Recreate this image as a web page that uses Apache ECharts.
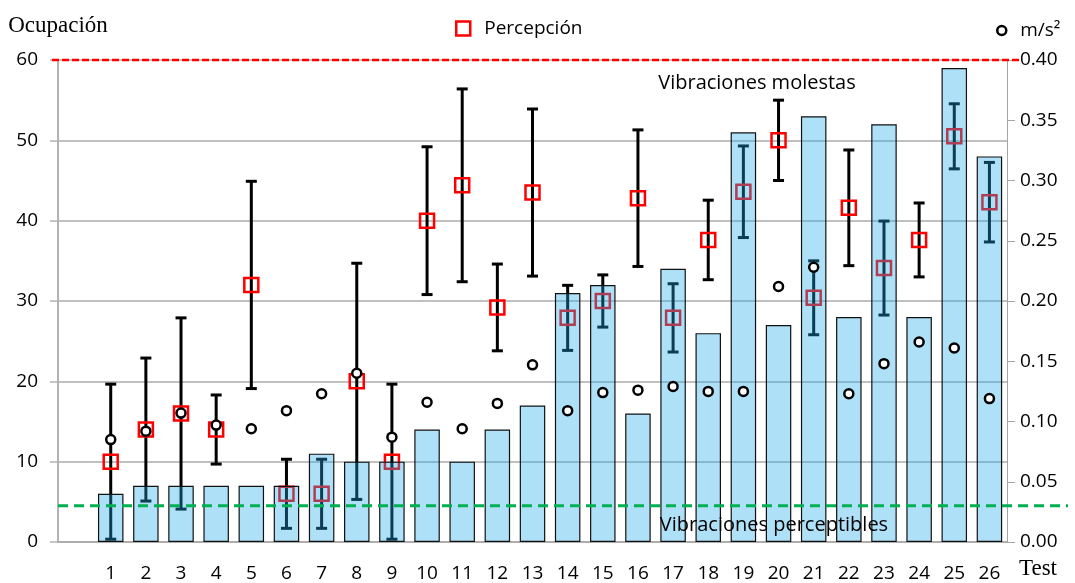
<!DOCTYPE html>
<html>
<head>
<meta charset="utf-8">
<script src="https://cdn.jsdelivr.net/npm/echarts@6/dist/echarts.min.js"></script>
<style>
  html, body { margin: 0; padding: 0; background: #fff; }
  #chart { width: 1075px; height: 583px; }
</style>
</head>
<body>
<div id="chart"></div>
<script>
// Test numbers along the horizontal axis
const tests = ['1','2','3','4','5','6','7','8','9','10','11','12','13','14','15','16','17','18','19','20','21','22','23','24','25','26'];
// Occupancy per test (left axis)
const occupancy = [6,7,7,7,7,7,11,10,10,14,10,14,17,31,32,16,34,26,51,27,53,28,52,28,59,48];
// Perception score per test: mean and spread (left axis)
const perceptionMean = [10,14,16,14,32,6,6,20,10,40,44.4,29.2,43.5,27.9,30,42.8,27.9,37.6,43.6,50,30.4,41.6,34.1,37.6,50.5,42.3];
const perceptionSd = [9.65,8.9,11.9,4.3,12.9,4.3,4.3,14.7,9.65,9.2,12,5.4,10.4,4.05,3.25,8.5,4.25,4.95,5.7,5,4.6,7.2,5.85,4.6,4.05,4.95];
// Measured acceleration in m/s² (right axis)
const accel = [0.085,0.092,0.107,0.097,0.094,0.109,0.123,0.140,0.087,0.116,0.094,0.115,0.147,0.109,0.124,0.126,0.129,0.125,0.125,0.212,0.228,0.123,0.148,0.166,0.161,0.119];
// Reference thresholds in m/s²
const thresholdValues = [0.40, 0.03];
const thresholdLabels = ['Vibraciones molestas', 'Vibraciones perceptibles'];

const SANS = 'Open Sans';
const SERIF = 'Liberation Serif';

// first slot on the category axis is left empty
const categories = [''].concat(tests);
const pad = v => ['-'].concat(v);
const errData = perceptionMean.map((m, i) => [i + 1, m - perceptionSd[i], m + perceptionSd[i]]);

const chart = echarts.init(document.getElementById('chart'), null, { renderer: 'canvas' });

const option = {
  animation: false,
  backgroundColor: '#fff',
  grid: { left: 58, right: 68, top: 60, bottom: 39, containLabel: false },
  legend: [
    {
      data: [{ name: 'Percepción', icon: 'rect',
        itemStyle: { color: '#fff', borderColor: '#ff0000', borderWidth: 2.5 } }],
      left: 450, top: 14, itemWidth: 14, itemHeight: 14,
      textStyle: { fontFamily: SANS, fontSize: 19, color: '#000', padding: [0, 0, 0, 9] }
    },
    {
      data: [{ name: 'm/s²', icon: 'circle',
        itemStyle: { color: '#fff', borderColor: '#000', borderWidth: 2.5 } }],
      left: 991, top: 16, itemWidth: 9, itemHeight: 9,
      textStyle: { fontFamily: SANS, fontSize: 19, color: '#000', padding: [0, 0, 0, 9] }
    }
  ],
  xAxis: {
    type: 'category',
    data: categories,
    boundaryGap: true,
    name: 'Test',
    nameLocation: 'end',
    nameGap: 12,
    nameTextStyle: { fontFamily: SERIF, fontSize: 23, color: '#000',
      verticalAlign: 'top', padding: [15, 0, 0, 0] },
    axisLine: { lineStyle: { color: '#a6a6a6', width: 1.5 } },
    axisTick: { interval: 0, length: 6, lineStyle: { color: '#a6a6a6', width: 1.5 } },
    axisLabel: { interval: 0, margin: 22, fontFamily: SANS, fontSize: 19, color: '#000' },
    splitLine: { show: false }
  },
  yAxis: [
    {
      type: 'value', min: 0, max: 60, interval: 10,
      name: 'Ocupación', nameLocation: 'end', nameGap: 23,
      nameTextStyle: { fontFamily: SERIF, fontSize: 23, color: '#000', align: 'center' },
      axisLine: { show: true, lineStyle: { color: '#b3b3b3', width: 2 } },
      axisTick: { show: true, length: 8, lineStyle: { color: '#b3b3b3', width: 1.5 } },
      axisLabel: { margin: 20, fontFamily: SANS, fontSize: 19, color: '#000' },
      splitLine: { show: true, lineStyle: { color: '#ababab', width: 1.5 } }
    },
    {
      type: 'value', min: 0, max: 0.40, interval: 0.05,
      position: 'right',
      axisLine: { show: true, lineStyle: { color: '#a6a6a6', width: 1 } },
      axisTick: { show: true, length: 8, lineStyle: { color: '#a6a6a6', width: 1 } },
      axisLabel: { margin: 13, fontFamily: SANS, fontSize: 19, color: '#000',
        formatter: v => v.toFixed(2) },
      splitLine: { show: false }
    }
  ],
  series: [
    {
      name: 'errores',
      type: 'custom',
      z: 2,
      yAxisIndex: 0,
      data: errData,
      encode: { x: 0, y: [1, 2] },
      renderItem: function (params, api) {
        const x = api.value(0);
        const lo = api.coord([x, api.value(1)]);
        const hi = api.coord([x, api.value(2)]);
        const half = 5.5;
        const st = { stroke: '#000', lineWidth: 3, fill: null };
        return {
          type: 'group',
          children: [
            { type: 'line', shape: { x1: lo[0], y1: lo[1], x2: hi[0], y2: hi[1] }, style: st },
            { type: 'line', shape: { x1: hi[0] - half, y1: hi[1], x2: hi[0] + half, y2: hi[1] }, style: st },
            { type: 'line', shape: { x1: lo[0] - half, y1: lo[1], x2: lo[0] + half, y2: lo[1] }, style: st }
          ]
        };
      }
    },
    {
      name: 'Percepción',
      type: 'scatter',
      z: 3,
      yAxisIndex: 0,
      symbol: 'rect',
      symbolSize: 14,
      itemStyle: { color: 'rgba(255,255,255,0)', borderColor: '#ff0000', borderWidth: 2.5, opacity: 1 },
      data: pad(perceptionMean)
    },
    {
      name: 'Ocupación',
      type: 'bar',
      z: 4,
      yAxisIndex: 0,
      barWidth: 25.5,
      itemStyle: { color: 'rgba(30,172,236,0.36)', borderColor: '#111', borderWidth: 1.2 },
      data: pad(occupancy)
    },
    {
      name: 'm/s²',
      type: 'scatter',
      z: 5,
      yAxisIndex: 1,
      symbol: 'circle',
      symbolSize: 9,
      itemStyle: { color: '#fff', borderColor: '#000', borderWidth: 2.5, opacity: 1 },
      data: pad(accel)
    }
  ]
};

chart.setOption(option);

// Threshold lines placed on the acceleration scale
const yTop = chart.convertToPixel({ yAxisIndex: 1 }, thresholdValues[0]);
const yLow = chart.convertToPixel({ yAxisIndex: 1 }, thresholdValues[1]);

chart.setOption({
  graphic: [
    { type: 'line', z: 10, shape: { x1: 52, y1: yTop, x2: 1022, y2: yTop },
      style: { stroke: '#ff0000', lineWidth: 2.5, lineDash: [7, 3] } },
    { type: 'line', z: 10, shape: { x1: 58, y1: yLow, x2: 1068, y2: yLow },
      style: { stroke: '#00b050', lineWidth: 3, lineDash: [10, 6] } },
    { type: 'text', z: 10, x: 757, y: yTop + 23,
      style: { text: thresholdLabels[0], fontFamily: SANS, fontSize: 20, fill: '#000',
        align: 'center', verticalAlign: 'middle' } },
    { type: 'text', z: 10, x: 774, y: yLow + 19,
      style: { text: thresholdLabels[1], fontFamily: SANS, fontSize: 20, fill: '#000',
        align: 'center', verticalAlign: 'middle' } }
  ]
});
</script>
</body>
</html>
